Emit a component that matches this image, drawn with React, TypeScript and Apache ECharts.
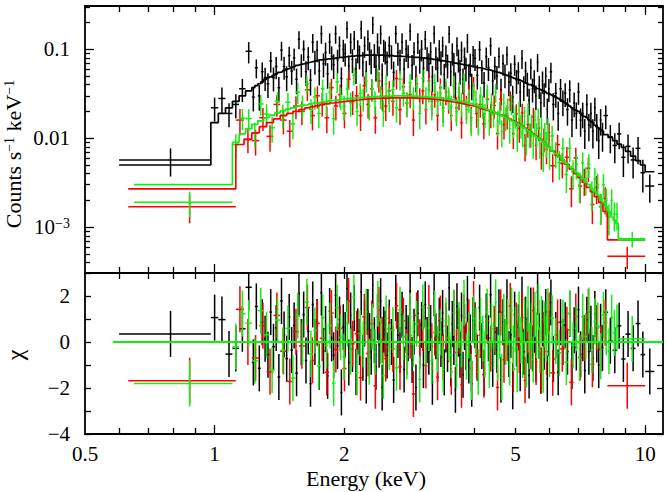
import React, { useEffect, useRef } from "react";
import * as echarts from "echarts";

// ---------- axis ranges & ticks ----------
const X_MIN = 0.5;
const X_MAX = 11;
const Y_MIN = 3.05e-4;
const Y_MAX = 0.307;
const CHI_MIN = -4;
const CHI_MAX = 3;

const xTickLabels = [0.5, 1, 2, 5, 10];
const xMinorTicks = [0.6, 0.7, 0.8, 0.9, 2, 3, 4, 5, 6, 7, 8, 9];
const xMajorTicks = [1, 10];
const yTickLabels = [0.001, 0.01, 0.1];
const yMinorTicks = [
  4e-4, 5e-4, 6e-4, 7e-4, 8e-4, 9e-4,
  0.002, 0.003, 0.004, 0.005, 0.006, 0.007, 0.008, 0.009,
  0.02, 0.03, 0.04, 0.05, 0.06, 0.07, 0.08, 0.09, 0.2, 0.3,
];
const chiTicks = [-4, -3, -2, -1, 0, 1, 2, 3];
const chiTickLabels = [-4, -2, 0, 2];
const zeroLineSpan = [0.58, 11];

// ---------- black spectrum (bin edges keV, model, rate, error %) ----------
const blackEdges = [0.60, 0.98, 1.02, 1.06, 1.10, 1.14, 1.18, 1.22,
  1.24, 1.26, 1.28, 1.30, 1.32, 1.34, 1.36, 1.38, 1.40, 1.42, 1.44, 1.46, 1.48, 1.50, 1.52, 1.54, 1.56, 1.58, 1.60,
  1.62, 1.64, 1.66, 1.68, 1.70, 1.72, 1.74, 1.76, 1.78, 1.80, 1.82, 1.84, 1.86, 1.88, 1.90, 1.92, 1.94, 1.96, 1.98, 2.00, 2.02, 2.04, 2.06, 2.08, 2.10, 2.12, 2.14, 2.16, 2.18, 2.20, 2.22, 2.24, 2.26, 2.28, 2.30, 2.32, 2.34, 2.36, 2.38, 2.40, 2.42, 2.44, 2.46, 2.48, 2.50,
  2.53, 2.56, 2.59, 2.62, 2.65, 2.68, 2.71, 2.74, 2.77, 2.80, 2.83, 2.86, 2.89, 2.92, 2.95, 2.98, 3.01, 3.04, 3.07, 3.10, 3.13, 3.16, 3.19, 3.22, 3.25, 3.28, 3.31, 3.34, 3.37, 3.40, 3.43, 3.46, 3.49, 3.52, 3.55, 3.58, 3.61, 3.64, 3.67, 3.70, 3.73, 3.76, 3.79, 3.82, 3.85, 3.88, 3.91, 3.94, 3.97, 4.00,
  4.05, 4.10, 4.15, 4.20, 4.25, 4.30, 4.35, 4.40, 4.45, 4.50, 4.55, 4.60, 4.65, 4.70, 4.75, 4.80, 4.85, 4.90, 4.95, 5.00, 5.05, 5.10, 5.15, 5.20, 5.25, 5.30, 5.35, 5.40, 5.45, 5.50, 5.55, 5.60, 5.65, 5.70, 5.75, 5.80, 5.85, 5.90, 5.95, 6.00,
  6.08, 6.16, 6.24, 6.32, 6.40, 6.48, 6.56, 6.64, 6.72, 6.80, 6.88, 6.96, 7.04, 7.12, 7.20, 7.28, 7.36, 7.44, 7.52, 7.60, 7.68, 7.76, 7.84, 7.92, 8.00,
  8.20, 8.40, 8.60, 8.80, 9.00, 9.25, 9.50, 9.75, 10.0, 10.5];
const blackModel = [0.0050,
  0.015, 0.019, 0.022, 0.026, 0.030, 0.034,
  0.037, 0.039, 0.041, 0.043, 0.046, 0.048, 0.049, 0.051, 0.053, 0.055, 0.056, 0.058, 0.060, 0.061, 0.063, 0.064, 0.066, 0.067, 0.068,
  0.069, 0.070, 0.071, 0.072, 0.073, 0.074, 0.075, 0.076, 0.076, 0.077, 0.077, 0.078, 0.078, 0.079, 0.079, 0.080, 0.080, 0.081, 0.081, 0.082, 0.082, 0.083, 0.083, 0.084, 0.084, 0.084, 0.085, 0.085, 0.085, 0.085, 0.086, 0.086, 0.086, 0.086, 0.086, 0.086, 0.086, 0.086, 0.086, 0.086, 0.086, 0.086, 0.086, 0.085, 0.085,
  0.085, 0.085, 0.085, 0.084, 0.084, 0.084, 0.084, 0.083, 0.083, 0.083, 0.082, 0.082, 0.082, 0.081, 0.081, 0.081, 0.080, 0.080, 0.080, 0.079, 0.079, 0.078, 0.078, 0.077, 0.077, 0.076, 0.076, 0.075, 0.075, 0.074, 0.074, 0.073, 0.073, 0.072, 0.072, 0.071, 0.070, 0.070, 0.069, 0.069, 0.068, 0.068, 0.067, 0.067, 0.066, 0.066, 0.065, 0.065, 0.064, 0.064,
  0.063, 0.062, 0.062, 0.061, 0.060, 0.059, 0.059, 0.058, 0.057, 0.056, 0.055, 0.055, 0.054, 0.053, 0.052, 0.051, 0.050, 0.049, 0.048, 0.047, 0.046, 0.046, 0.045, 0.044, 0.043, 0.042, 0.041, 0.040, 0.040, 0.039, 0.038, 0.037, 0.036, 0.036, 0.035, 0.034, 0.034, 0.033, 0.032, 0.032,
  0.031, 0.030, 0.029, 0.028, 0.027, 0.026, 0.025, 0.024, 0.023, 0.022, 0.021, 0.0205, 0.020, 0.019, 0.018, 0.0175, 0.017, 0.016, 0.0155, 0.015, 0.014, 0.0135, 0.013, 0.0125, 0.012,
  0.011, 0.0102, 0.0094, 0.0086, 0.0079, 0.0071, 0.0063, 0.0056, 0.0050, 0.0042];
const blackRate = [0.0057,
  0.022, 0.028, 0.019, 0.024, 0.036, 0.095,
  0.029, 0.062, 0.030, 0.056, 0.048, 0.041, 0.074, 0.048, 0.064, 0.037, 0.098, 0.064, 0.049, 0.085, 0.057, 0.080, 0.046, 0.13, 0.068,
  0.100, 0.056, 0.082, 0.045, 0.12, 0.074, 0.098, 0.057, 0.15, 0.069, 0.092, 0.053, 0.12, 0.083, 0.067, 0.15, 0.076, 0.11, 0.047, 0.10, 0.090, 0.17, 0.065, 0.12, 0.077, 0.13, 0.060, 0.098, 0.085, 0.17, 0.071, 0.11, 0.056, 0.13, 0.093, 0.076, 0.19, 0.088, 0.064, 0.12, 0.083, 0.15, 0.052, 0.10, 0.095,
  0.072, 0.11, 0.085, 0.055, 0.15, 0.092, 0.076, 0.12, 0.060, 0.10, 0.086, 0.16, 0.066, 0.093, 0.049, 0.12, 0.076, 0.10, 0.061, 0.13, 0.081, 0.069, 0.094, 0.049, 0.15, 0.082, 0.062, 0.10, 0.073, 0.11, 0.052, 0.086, 0.067, 0.15, 0.056, 0.091, 0.070, 0.041, 0.11, 0.077, 0.058, 0.097, 0.046, 0.082, 0.062, 0.12, 0.052, 0.069, 0.040, 0.086,
  0.079, 0.051, 0.099, 0.058, 0.042, 0.083, 0.062, 0.11, 0.044, 0.064, 0.050, 0.083, 0.035, 0.069, 0.052, 0.087, 0.043, 0.054, 0.029, 0.068, 0.045, 0.056, 0.033, 0.079, 0.038, 0.057, 0.042, 0.027, 0.062, 0.036, 0.045, 0.030, 0.072, 0.039, 0.025, 0.044, 0.032, 0.050, 0.021, 0.036,
  0.056, 0.024, 0.032, 0.019, 0.036, 0.026, 0.032, 0.021, 0.035, 0.016, 0.025, 0.019, 0.033, 0.016, 0.019, 0.012, 0.024, 0.014, 0.019, 0.012, 0.022, 0.014, 0.0094, 0.016, 0.011,
  0.018, 0.0104, 0.0083, 0.0112, 0.0061, 0.0081, 0.0057, 0.0077, 0.0041, 0.0029];
const blackErrPct = [35,
  30, 33, 30, 30, 29, 27,
  31, 24, 32, 27, 29, 31, 26, 30, 28, 32, 24, 29, 31, 26, 30, 28, 32, 23, 29,
  26, 31, 29, 33, 24, 30, 27, 31, 23, 30, 29, 32, 26, 30, 31, 23, 30, 27, 33, 28, 29, 22, 31, 26, 30, 24, 32, 29, 30, 23, 31, 27, 32, 26, 29, 31, 22, 30, 32, 26, 30, 24, 33, 28, 29,
  31, 27, 30, 32, 23, 29, 30, 26, 32, 28, 29, 22, 31, 29, 33, 26, 30, 27, 31, 24, 30, 31, 28, 33, 23, 29, 31, 27, 30, 26, 32, 28, 30, 22, 31, 28, 30, 34, 24, 29, 31, 26, 32, 28, 30, 24, 31, 29, 33, 27,
  28, 31, 25, 30, 32, 26, 29, 23, 31, 29, 30, 26, 33, 27, 30, 24, 31, 29, 34, 26, 30, 28, 32, 24, 31, 27, 30, 33, 26, 30, 29, 31, 23, 29, 32, 28, 30, 26, 33, 29,
  26, 34, 31, 36, 29, 32, 30, 34, 28, 36, 31, 33, 28, 35, 32, 37, 30, 34, 32, 36, 30, 34, 38, 33, 36,
  30, 35, 37, 33, 40, 36, 38, 34, 40, 35];

// ---------- red spectrum ----------
const redEdges = [0.63, 1.12, 1.17, 1.22, 1.27, 1.32, 1.37, 1.42, 1.47, 1.52, 1.57, 1.62,
  1.665, 1.71, 1.755, 1.80, 1.845, 1.89, 1.935, 1.98, 2.025, 2.07, 2.115, 2.16, 2.205, 2.25, 2.295, 2.34, 2.385, 2.43, 2.475, 2.52,
  2.57, 2.62, 2.67, 2.72, 2.77, 2.82, 2.87, 2.92, 2.97, 3.02, 3.07, 3.12, 3.17, 3.22, 3.27, 3.32, 3.37, 3.42, 3.47, 3.52, 3.57, 3.62, 3.67, 3.72, 3.77, 3.82, 3.87, 3.92, 3.97, 4.02,
  4.10, 4.18, 4.26, 4.34, 4.42, 4.50, 4.58, 4.66, 4.74, 4.82, 4.90, 4.98, 5.06, 5.14, 5.22, 5.30, 5.38, 5.46, 5.54, 5.62, 5.70, 5.78, 5.86, 5.94, 6.02,
  6.18, 6.34, 6.50, 6.66, 6.82, 6.98, 7.14, 7.30, 7.46, 7.62, 7.80, 7.98, 8.17,
  10.0];
const redModel = [0.0027,
  0.0085, 0.0097, 0.0115, 0.0135, 0.015, 0.0165, 0.018, 0.019, 0.020, 0.021,
  0.0219, 0.0226, 0.0232, 0.0238, 0.0244, 0.0249, 0.0253, 0.0257, 0.026, 0.0263, 0.0266, 0.0269, 0.0272, 0.0275, 0.0277, 0.0279, 0.028, 0.0281, 0.0282, 0.0283,
  0.0284, 0.0284, 0.0285, 0.0285, 0.0285, 0.0284, 0.0284, 0.0283, 0.0282, 0.0281, 0.028, 0.0279, 0.0277, 0.0275, 0.0273, 0.0271, 0.0268, 0.0266, 0.0263, 0.026, 0.0257, 0.0254, 0.0251, 0.0248, 0.0245, 0.0242, 0.0238, 0.0235, 0.0232, 0.0229,
  0.0225, 0.0219, 0.0213, 0.0207, 0.0201, 0.0195, 0.0189, 0.0183, 0.0177, 0.0171, 0.0164, 0.0157, 0.015, 0.0143, 0.0137, 0.013, 0.0124, 0.0118, 0.0112, 0.0106, 0.01, 0.0095, 0.009, 0.0085, 0.008,
  0.0072, 0.0064, 0.0057, 0.0051, 0.0045, 0.0040, 0.0036, 0.0032, 0.0028, 0.0025, 0.0022, 0.0019, 0.0015,
  0.00072];
const redRate = [0.0017,
  0.016, 0.0097, 0.0094, 0.017, 0.0105, 0.024, 0.016, 0.012, 0.023, 0.020,
  0.035, 0.018, 0.030, 0.025, 0.017, 0.037, 0.023, 0.031, 0.019, 0.046, 0.026, 0.030, 0.018, 0.039, 0.024, 0.036, 0.017, 0.044, 0.029, 0.023,
  0.034, 0.026, 0.047, 0.021, 0.038, 0.025, 0.031, 0.016, 0.041, 0.028, 0.034, 0.021, 0.044, 0.026, 0.031, 0.018, 0.037, 0.022, 0.033, 0.027, 0.018, 0.038, 0.022, 0.029, 0.015, 0.034, 0.023, 0.031, 0.017, 0.039,
  0.019, 0.024, 0.0145, 0.0275, 0.0185, 0.0234, 0.0113, 0.0275, 0.0142, 0.018, 0.027, 0.0113, 0.0188, 0.0129, 0.0192, 0.0083, 0.0143, 0.0112, 0.0174, 0.0083, 0.013, 0.0067, 0.0099, 0.0075, 0.0116,
  0.0049, 0.0085, 0.0052, 0.0061, 0.0027, 0.0060, 0.0029, 0.0034, 0.0046, 0.0018, 0.0028, 0.0017, 0.0021,
  0.00047];
const redErrPct = [35,
  33, 30, 32, 29, 33, 27, 31, 34, 29, 30,
  25, 32, 28, 30, 33, 26, 31, 29, 32, 24, 30, 29, 33, 27, 31, 28, 34, 26, 30, 32,
  29, 31, 25, 33, 27, 31, 30, 34, 27, 30, 29, 32, 25, 31, 29, 33, 27, 32, 29, 30, 33, 26, 31, 29, 34, 27, 30, 28, 32, 25,
  31, 29, 33, 27, 30, 29, 34, 26, 32, 30, 25, 33, 28, 31, 27, 34, 29, 30, 26, 32, 28, 34, 30, 32, 27,
  35, 29, 32, 31, 38, 30, 36, 34, 30, 40, 35, 38, 34,
  28];

// ---------- green spectrum ----------
const greenEdges = [0.65, 1.10, 1.14, 1.18, 1.22, 1.26, 1.30, 1.34, 1.38, 1.42, 1.46, 1.50, 1.54, 1.58, 1.62,
  1.656, 1.692, 1.728, 1.764, 1.80, 1.836, 1.872, 1.908, 1.944, 1.98, 2.016, 2.052, 2.088, 2.124, 2.16, 2.196, 2.232, 2.268, 2.304, 2.34, 2.376, 2.412, 2.448, 2.484, 2.52,
  2.57, 2.62, 2.67, 2.72, 2.77, 2.82, 2.87, 2.92, 2.97, 3.02, 3.07, 3.12, 3.17, 3.22, 3.27, 3.32, 3.37, 3.42, 3.47, 3.52, 3.57, 3.62, 3.67, 3.72, 3.77, 3.82, 3.87, 3.92, 3.97, 4.02,
  4.07, 4.12, 4.17, 4.22, 4.27, 4.32, 4.37, 4.42, 4.47, 4.52, 4.57, 4.62, 4.67, 4.72, 4.77, 4.82, 4.87, 4.92, 4.97, 5.02, 5.07, 5.12, 5.17, 5.22, 5.27, 5.32, 5.37, 5.42, 5.47, 5.52, 5.57, 5.62, 5.67, 5.72, 5.77, 5.82, 5.87, 5.92, 5.97, 6.02,
  6.14, 6.26, 6.38, 6.50, 6.62, 6.74, 6.86, 6.98, 7.10, 7.22, 7.34, 7.46, 7.58, 7.70, 7.82, 7.94, 8.06, 8.18, 8.30, 8.42, 8.54, 8.66,
  10.0];
const greenModel = [0.0030,
  0.0090, 0.0112, 0.0128, 0.0143, 0.0157, 0.017, 0.0182, 0.0193, 0.0203, 0.0212, 0.022, 0.0228, 0.0235,
  0.0239, 0.0244, 0.0249, 0.0253, 0.0257, 0.0261, 0.0264, 0.0267, 0.027, 0.0273, 0.0276, 0.0279, 0.0281, 0.0283, 0.0285, 0.0287, 0.0289, 0.029, 0.0291, 0.0293, 0.0294, 0.0295, 0.0296, 0.0297, 0.0297,
  0.0298, 0.0299, 0.0299, 0.0299, 0.0299, 0.0299, 0.0298, 0.0297, 0.0296, 0.0295, 0.0294, 0.0292, 0.029, 0.0288, 0.0286, 0.0284, 0.0282, 0.0279, 0.0277, 0.0274, 0.0271, 0.0268, 0.0265, 0.0262, 0.0258, 0.0255, 0.0251, 0.0247, 0.0243, 0.0239,
  0.0233, 0.0229, 0.0224, 0.022, 0.0216, 0.0211, 0.0207, 0.0202, 0.0198, 0.0193, 0.0189, 0.0184, 0.018, 0.0176, 0.0171, 0.0167, 0.0163, 0.0158, 0.0154, 0.015, 0.0146, 0.0142, 0.0138, 0.0134, 0.013, 0.0126, 0.0122, 0.0118, 0.0114, 0.011, 0.0107, 0.0103, 0.01, 0.0097, 0.0094, 0.0091, 0.0088, 0.0085, 0.0082, 0.0079,
  0.0073, 0.0067, 0.0062, 0.0057, 0.0052, 0.0048, 0.0044, 0.0041, 0.0038, 0.0035, 0.0032, 0.003, 0.0027, 0.0025, 0.0023, 0.0021, 0.0019, 0.0017, 0.0015, 0.0013, 0.0012, 0.0011,
  0.00072];
const greenRate = [0.0019,
  0.0085, 0.0168, 0.0166, 0.0114, 0.0243, 0.0187, 0.0131, 0.026, 0.0183, 0.0254, 0.0145, 0.033, 0.0235,
  0.041, 0.021, 0.029, 0.019, 0.036, 0.025, 0.033, 0.0166, 0.043, 0.029, 0.023, 0.036, 0.025, 0.051, 0.020, 0.032, 0.028, 0.044, 0.023, 0.036, 0.026, 0.049, 0.030, 0.020, 0.041,
  0.028, 0.035, 0.022, 0.046, 0.032, 0.025, 0.042, 0.029, 0.038, 0.019, 0.047, 0.029, 0.035, 0.023, 0.042, 0.026, 0.032, 0.020, 0.037, 0.029, 0.023, 0.040, 0.020, 0.033, 0.025, 0.043, 0.021, 0.027, 0.016, 0.033,
  0.027, 0.016, 0.030, 0.023, 0.0186, 0.032, 0.0157, 0.025, 0.0188, 0.033, 0.0155, 0.020, 0.0119, 0.025, 0.0171, 0.022, 0.0127, 0.0245, 0.0142, 0.0177, 0.0105, 0.0206, 0.0141, 0.0114, 0.0176, 0.0095, 0.0195, 0.0112, 0.0143, 0.0088, 0.016, 0.0113, 0.017, 0.0087, 0.0132, 0.0064, 0.0114, 0.0089, 0.0131, 0.0067,
  0.0106, 0.0068, 0.0053, 0.0077, 0.0039, 0.0077, 0.0042, 0.0051, 0.003, 0.0053, 0.0035, 0.0051, 0.0024, 0.0035, 0.003, 0.0017, 0.003, 0.002, 0.0013, 0.002, 0.0014, 0.0014,
  0.00074];
const greenErrPct = [32,
  30, 27, 28, 31, 26, 29, 32, 27, 30, 28, 33, 27, 29,
  24, 31, 28, 32, 27, 29, 28, 34, 25, 29, 31, 28, 30, 23, 32, 28, 29, 26, 31, 28, 30, 24, 29, 33, 27,
  30, 28, 32, 25, 29, 31, 26, 29, 28, 34, 25, 29, 28, 31, 26, 30, 28, 33, 27, 29, 31, 26, 32, 28, 30, 24, 31, 29, 34, 27,
  28, 33, 27, 29, 31, 26, 32, 28, 30, 24, 32, 29, 34, 27, 30, 28, 32, 26, 30, 28, 33, 26, 30, 31, 28, 33, 26, 31, 29, 33, 28, 31, 27, 33, 29, 35, 30, 32, 28, 34,
  30, 33, 36, 31, 38, 30, 35, 33, 38, 31, 35, 30, 37, 32, 33, 38, 31, 35, 38, 33, 36, 34,
  20];

// ---------- styles ----------
const FONT = "'Liberation Serif', 'Times New Roman', Times, 'DejaVu Serif', serif";
const BLACK = "#000000";
const RED = "#ff0000";
const GREEN = "#11ee11";

function buildSpectrum(edges: number[], model: number[], rate: number[], errPct: number[]) {
  const n = Math.min(edges.length - 1, model.length, rate.length, errPct.length);
  const data: number[][] = [];
  const resid: number[][] = [];
  const step: number[][] = [];
  for (let i = 0; i < n; i++) {
    const lo = edges[i];
    const hi = edges[i + 1];
    const c = (lo + hi) / 2;
    const err = (rate[i] * errPct[i]) / 100;
    data.push([c, lo, hi, rate[i], Math.max(rate[i] - err, 1e-7), rate[i] + err]);
    const chi = (rate[i] - model[i]) / err;
    resid.push([c, lo, hi, chi, chi - 1, chi + 1]);
    step.push([lo, model[i]], [hi, model[i]]);
  }
  return { data, resid, step };
}

function crossSeries(data: number[][], color: string, xi: number, yi: number) {
  return {
    type: "custom",
    xAxisIndex: xi,
    yAxisIndex: yi,
    data,
    encode: { x: 0, y: 3 },
    silent: true,
    clip: true,
    renderItem: (params: any, api: any) => {
      const cs = params.coordSys;
      const left = cs.x;
      const right = cs.x + cs.width;
      const top = cs.y;
      const bottom = cs.y + cs.height;
      const cx = api.value(0);
      const lo = api.value(1);
      const hi = api.value(2);
      const v = api.value(3);
      const vlo = api.value(4);
      const vhi = api.value(5);
      const pc = api.coord([cx, v]);
      const pl = api.coord([lo, v]);
      const ph = api.coord([hi, v]);
      const pt = api.coord([cx, vhi]);
      const pb = api.coord([cx, vlo]);
      const clampY = (y: number) => (isFinite(y) ? Math.min(bottom, Math.max(top, y)) : bottom);
      const children: any[] = [];
      const yT = clampY(pt[1]);
      const yB = clampY(pb[1]);
      const st = { stroke: color, lineWidth: 1.5 };
      if (yB > yT) {
        children.push({ type: "line", shape: { x1: pc[0], y1: yT, x2: pc[0], y2: yB }, style: st });
      }
      if (pc[1] >= top && pc[1] <= bottom) {
        children.push({
          type: "line",
          shape: { x1: Math.max(left, pl[0]), y1: pc[1], x2: Math.min(right, ph[0]), y2: pc[1] },
          style: st,
        });
      }
      return { type: "group", children };
    },
  };
}

function stepSeries(points: number[][], color: string) {
  return {
    type: "line",
    xAxisIndex: 0,
    yAxisIndex: 0,
    data: points,
    symbol: "none",
    showSymbol: false,
    silent: true,
    lineStyle: { color, width: 1.7 },
    itemStyle: { color },
  };
}

const axisLine = { color: "#000", width: 1.8 };
const tickLine = { color: "#000", width: 1.3 };

function axis(base: any, ticks: number[], len: number, showLine: boolean, label?: any) {
  return {
    ...base,
    axisLine: { show: showLine, onZero: false, lineStyle: axisLine },
    axisTick: { show: true, inside: true, length: len, customValues: ticks, lineStyle: tickLine },
    axisLabel: label ? label : { show: false },
    splitLine: { show: false },
    minorTick: { show: false },
    minorSplitLine: { show: false },
  };
}

const xLog = (g: number, pos: string) => ({ type: "log", logBase: 10, gridIndex: g, position: pos, min: X_MIN, max: X_MAX });
const yLog = (pos: string) => ({ type: "log", logBase: 10, gridIndex: 0, position: pos, min: Y_MIN, max: Y_MAX });
const yChi = (pos: string) => ({ type: "value", gridIndex: 1, position: pos, min: CHI_MIN, max: CHI_MAX });

const labelRich = {
  b: { fontFamily: FONT, fontSize: 21, color: "#000" },
  s: { fontFamily: FONT, fontSize: 14, color: "#000", verticalAlign: "top" },
};
const labelText = { fontFamily: FONT, fontSize: 21, color: "#000", rich: labelRich };

const xLabel = {
  show: true,
  customValues: xTickLabels,
  margin: 9,
  ...labelText,
  formatter: (v: number) => `{b|${Math.round(v * 10) / 10}}`,
};
const yLabel = {
  show: true,
  customValues: yTickLabels,
  margin: 15,
  ...labelText,
  formatter: (v: number) => {
    const e = Math.round(Math.log10(v));
    if (e <= -3) return `{b|10}{s|\u2212${-e}}`;
    return e === -1 ? "{b|0.1}" : "{b|0.01}";
  },
};
const chiLabel = {
  show: true,
  customValues: chiTickLabels,
  margin: 15,
  ...labelText,
  formatter: (v: number) => `{b|${v < 0 ? "\u2212" + Math.abs(v) : String(v)}}`,
};

function buildOption() {
  const black = buildSpectrum(blackEdges, blackModel, blackRate, blackErrPct);
  const red = buildSpectrum(redEdges, redModel, redRate, redErrPct);
  const green = buildSpectrum(greenEdges, greenModel, greenRate, greenErrPct);

  return {
    animation: false,
    backgroundColor: "#ffffff",
    textStyle: { fontFamily: FONT },
    grid: [
      { left: 85, top: 6, width: 578, height: 267, containLabel: false, outerBoundsMode: "none" },
      { left: 85, top: 273, width: 578, height: 161, containLabel: false, outerBoundsMode: "none" },
    ],
    xAxis: [
      axis(xLog(0, "bottom"), xMinorTicks, 6, true),
      axis(xLog(0, "bottom"), xMajorTicks, 9, false),
      axis(xLog(0, "top"), xMinorTicks, 6, true),
      axis(xLog(0, "top"), xMajorTicks, 9, false),
      axis(xLog(1, "bottom"), xMinorTicks, 6, true, xLabel),
      axis(xLog(1, "bottom"), xMajorTicks, 9, false),
      axis(xLog(1, "top"), xMinorTicks, 6, true),
      axis(xLog(1, "top"), xMajorTicks, 9, false),
    ],
    yAxis: [
      axis(yLog("left"), yMinorTicks, 5, true),
      axis(yLog("left"), yTickLabels, 9, false, yLabel),
      axis(yLog("right"), yMinorTicks, 5, true),
      axis(yLog("right"), yTickLabels, 9, false),
      axis(yChi("left"), chiTicks, 6, true, chiLabel),
      axis(yChi("right"), chiTicks, 6, true),
    ],
    graphic: [
      {
        type: "text",
        x: 13,
        y: 154,
        rotation: Math.PI / 2,
        style: {
          text: "Counts s{s|\u22121} keV{s|\u22121}",
          fontFamily: FONT,
          fontSize: 22,
          fill: "#000",
          align: "center",
          verticalAlign: "middle",
          textAlign: "center",
          textVerticalAlign: "middle",
          rich: { s: { fontFamily: FONT, fontSize: 14, fill: "#000", verticalAlign: "top" } },
        },
      },
      {
        type: "text",
        x: 15,
        y: 355,
        rotation: Math.PI / 2,
        style: {
          text: "\u03c7",
          fontFamily: FONT,
          fontSize: 24,
          fill: "#000",
          align: "center",
          verticalAlign: "middle",
          textAlign: "center",
          textVerticalAlign: "middle",
        },
      },
      {
        type: "text",
        x: 366,
        y: 478,
        style: {
          text: "Energy (keV)",
          fontFamily: FONT,
          fontSize: 22,
          fill: "#000",
          align: "center",
          verticalAlign: "middle",
          textAlign: "center",
          textVerticalAlign: "middle",
        },
      },
    ],
    series: [
      crossSeries(black.data, BLACK, 0, 0),
      stepSeries(black.step, BLACK),
      crossSeries(red.data, RED, 0, 0),
      stepSeries(red.step, RED),
      crossSeries(green.data, GREEN, 0, 0),
      stepSeries(green.step, GREEN),
      crossSeries(black.resid, BLACK, 4, 4),
      crossSeries(red.resid, RED, 4, 4),
      crossSeries(green.resid, GREEN, 4, 4),
      {
        type: "line",
        xAxisIndex: 4,
        yAxisIndex: 4,
        data: zeroLineSpan.map((e) => [e, 0]),
        symbol: "none",
        silent: true,
        z: 5,
        lineStyle: { color: GREEN, width: 2 },
      },
    ],
  };
}

export default function App() {
  const ref = useRef<HTMLDivElement>(null);
  useEffect(() => {
    document.body.style.margin = "0";
    const chart = echarts.init(ref.current as HTMLDivElement, undefined, { renderer: "svg" });
    chart.setOption(buildOption() as any);
    return () => chart.dispose();
  }, []);
  return (
    <div
      ref={ref}
      style={{ position: "fixed", left: 0, top: 0, width: 667, height: 492, background: "#fff" }}
    />
  );
}
